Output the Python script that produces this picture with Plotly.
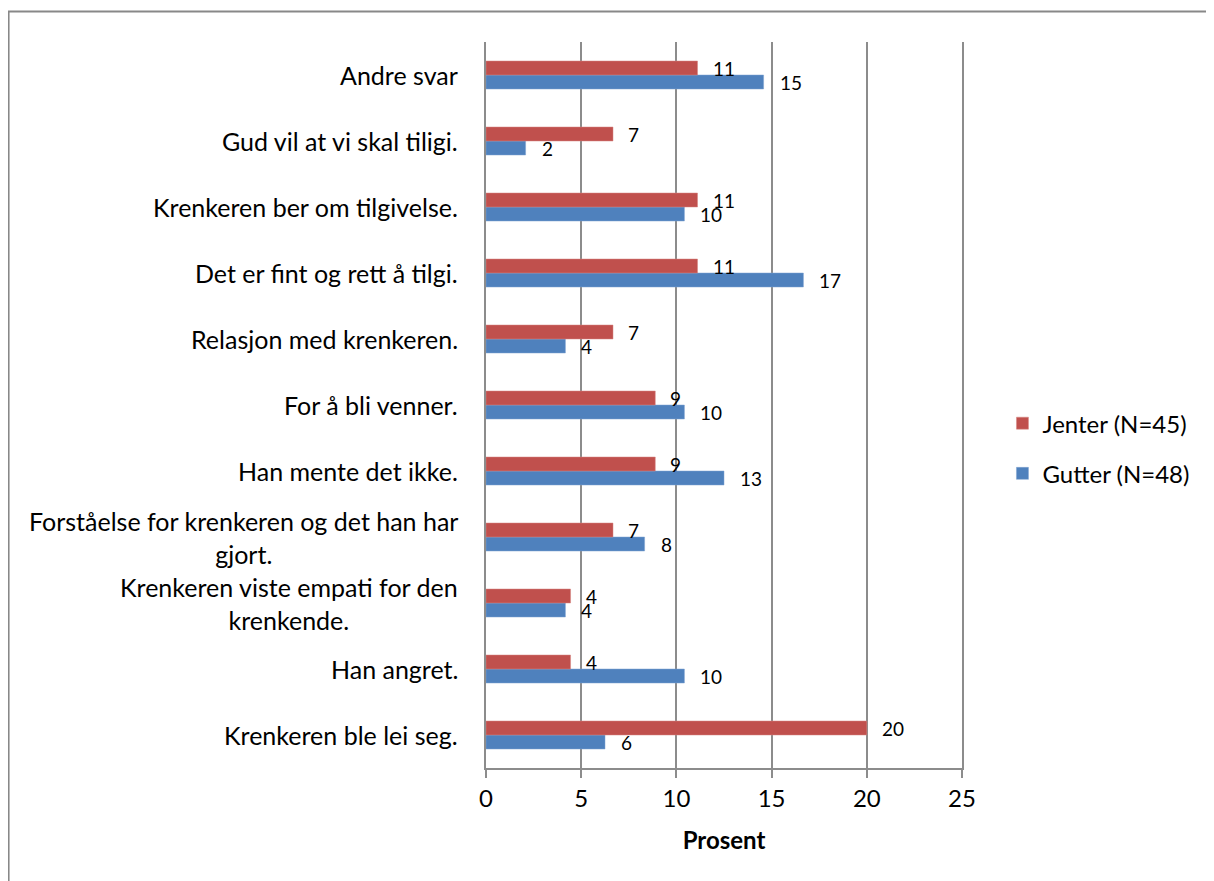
import plotly.graph_objects as go

# Categories, bottom to top as drawn
categories = [
    "Krenkeren ble lei seg.",
    "Han angret.",
    "Krenkeren viste empati for den<br>krenkende.",
    "Forståelse for krenkeren og det han har<br>gjort.",
    "Han mente det ikke.",
    "For å bli venner.",
    "Relasjon med krenkeren.",
    "Det er fint og rett å tilgi.",
    "Krenkeren ber om tilgivelse.",
    "Gud vil at vi skal tiligi.",
    "Andre svar",
]
jenter = [20.0, 4.44, 4.44, 6.67, 8.89, 8.89, 6.67, 11.11, 11.11, 6.67, 11.11]
gutter = [6.25, 10.42, 4.17, 8.33, 12.5, 10.42, 4.17, 16.67, 10.42, 2.08, 14.58]
x_ticks = [0, 5, 10, 15, 20, 25]

FONT = "Lato"
RED = "#C0504D"
BLUE = "#4F81BD"
GRID = "#8c8c8c"

fig = go.Figure()

# blue first so it sits below the red bar in each group
fig.add_trace(go.Bar(
    y=categories, x=gutter, orientation="h", name="Gutter (N=48)",
    marker=dict(color=BLUE, line=dict(color="#7fa3d1", width=0.5)),
    legendgroup="g", legendrank=2, hoverinfo="x",
))
fig.add_trace(go.Bar(
    y=categories, x=jenter, orientation="h", name="Jenter (N=45)",
    marker=dict(color=RED, line=dict(color="#d68683", width=0.5)),
    legendgroup="j", legendrank=1, hoverinfo="x",
))

# value labels
for cat, v in zip(categories, jenter):
    fig.add_annotation(x=v, y=cat, text=str(int(v + 0.5)), showarrow=False,
                       xanchor="left", yanchor="middle", xshift=13, yshift=7,
                       font=dict(family=FONT, size=19, color="black"))
for cat, v in zip(categories, gutter):
    fig.add_annotation(x=v, y=cat, text=str(int(v + 0.5)), showarrow=False,
                       xanchor="left", yanchor="middle", xshift=14, yshift=-7,
                       font=dict(family=FONT, size=19, color="black"))

# category labels, centred multi-line like Excel
for cat in categories:
    fig.add_annotation(x=0, xref="paper", y=cat, text=cat, showarrow=False,
                       xanchor="right", yanchor="middle", align="center", xshift=-26,
                       font=dict(family=FONT, size=25, color="black"))

# outer chart border
fig.add_shape(type="rect", xref="paper", yref="paper",
              x0=-1.003, x1=1.8, y0=-0.5, y1=1.042,
              line=dict(color="#888888", width=2), fillcolor="rgba(0,0,0,0)")

fig.update_layout(
    width=1206, height=873,
    margin=dict(l=478, r=252, t=34, b=113),
    barmode="group", bargap=0.576, bargroupgap=0,
    plot_bgcolor="white", paper_bgcolor="white",
    font=dict(family=FONT, size=24, color="black"),
    legend=dict(x=1.085, y=0.44, xanchor="left", yanchor="middle",
                traceorder="grouped", tracegroupgap=16,
                font=dict(family=FONT, size=24, color="black")),
    xaxis=dict(range=[0, 25], tickvals=x_ticks, showgrid=True, gridcolor=GRID, gridwidth=1.5,
               zeroline=False, showline=True, linecolor=GRID, linewidth=1.5,
               ticks="outside", ticklen=8, tickcolor=GRID, tickwidth=1.5,
               tickfont=dict(family=FONT, size=24),
               title=dict(text="<b>Prosent</b>", font=dict(family=FONT, size=24), standoff=22)),
    yaxis=dict(range=[-0.5, 10.5], showticklabels=False, showgrid=False, zeroline=False,
               showline=True, linecolor=GRID, linewidth=1.5, mirror=True, ticks=""),
)

fig.write_html("out.html")
